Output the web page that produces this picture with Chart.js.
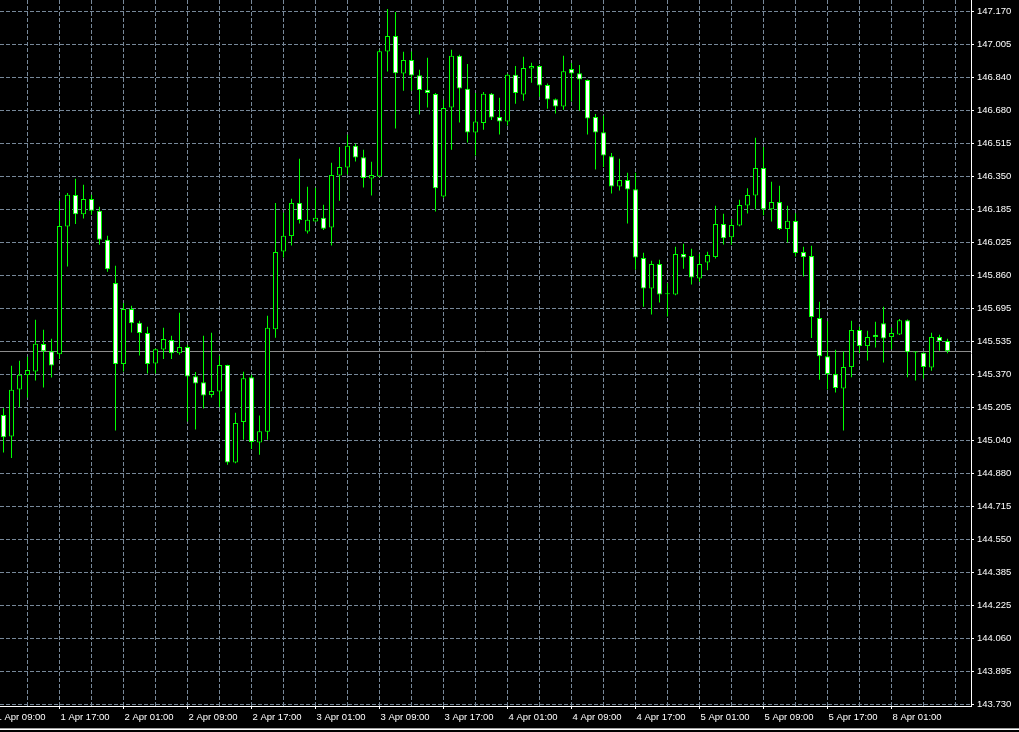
<!DOCTYPE html>
<html><head><meta charset="utf-8">
<script src="https://cdn.jsdelivr.net/npm/chart.js@4.4.1/dist/chart.umd.min.js"></script>
<style>
html,body{margin:0;padding:0;background:#000;overflow:hidden;}
#wrap{position:relative;width:1019px;height:732px;background:#000;}
canvas{display:block;}
#frame{position:absolute;left:0;top:728px;width:1019px;height:1px;background:#a0a0a0;border-bottom:1px solid #ffffff;}
</style></head><body>
<div id="wrap"><canvas id="c" width="1019" height="732"></canvas><div id="frame"></div></div>
<script>
// H1 candles, bar index 0 = 1 Apr 10:00
const open = [145.167,145.060,145.294,145.365,145.383,145.519,145.484,145.469,146.103,146.259,
146.164,146.239,146.181,146.037,145.822,145.420,145.693,145.625,145.574,145.423,
145.492,145.539,145.474,145.504,145.360,145.330,145.266,145.284,145.415,144.931,
145.132,145.355,145.031,145.084,145.593,145.979,146.055,146.220,146.078,146.128,
146.146,146.098,146.356,146.396,146.503,146.447,146.341,146.351,146.971,147.048,
146.862,146.929,146.854,146.781,146.760,146.252,146.693,146.950,146.786,146.569,
146.616,146.762,146.646,146.624,146.856,146.758,146.887,146.900,146.805,146.735,
146.698,146.884,146.864,146.830,146.646,146.571,146.452,146.301,146.333,146.288,
145.946,145.795,145.916,145.767,145.765,145.966,145.956,145.845,145.924,145.951,
146.115,146.050,146.108,146.207,146.257,146.393,146.189,146.224,146.090,146.130,
145.976,145.956,145.648,145.459,145.370,145.299,145.405,145.589,145.509,145.565,
145.623,145.554,145.567,145.638,145.478,145.476,145.403,145.554,145.534];
const high = [145.201,145.411,145.436,145.456,145.640,145.590,145.545,146.230,146.269,146.340,
146.310,146.260,146.201,146.057,145.908,145.723,145.709,145.635,145.605,145.497,
145.600,145.560,145.674,145.516,145.380,145.560,145.575,145.461,145.417,145.178,
145.382,145.367,145.165,145.660,146.220,146.171,146.240,146.439,146.300,146.295,
146.211,146.419,146.498,146.558,146.513,146.484,146.424,146.980,147.183,147.167,
146.970,146.971,146.881,146.940,146.765,146.732,146.980,146.955,146.910,146.765,
146.770,146.766,146.742,146.861,146.900,146.945,146.915,146.905,146.813,146.738,
146.950,146.914,146.905,146.833,146.661,146.652,146.467,146.439,146.369,146.369,
145.972,145.933,145.938,145.822,146.002,146.017,145.992,145.966,145.977,146.206,
146.166,146.140,146.235,146.293,146.543,146.498,146.325,146.305,146.206,146.169,
146.002,146.007,145.729,145.633,145.491,145.482,145.635,145.605,145.585,145.630,
145.704,145.600,145.643,145.641,145.482,145.478,145.575,145.565,145.545];
const low = [144.981,144.953,145.206,145.254,145.338,145.304,145.353,145.445,145.904,146.115,
146.142,146.161,146.012,145.878,145.090,145.383,145.577,145.462,145.373,145.373,
145.445,145.445,145.466,145.135,145.095,145.199,145.254,145.206,144.920,144.927,
145.044,144.998,144.970,145.044,145.550,145.949,146.008,146.118,146.068,146.126,
146.086,146.008,146.230,146.361,146.425,146.296,146.257,146.347,146.872,146.589,
146.776,146.776,146.659,146.693,146.177,146.245,146.484,146.619,146.520,146.455,
146.583,146.632,146.559,146.604,146.712,146.727,146.816,146.747,146.687,146.664,
146.682,146.723,146.679,146.559,146.386,146.398,146.267,146.282,146.118,145.888,
145.704,145.666,145.726,145.656,145.761,145.893,145.815,145.828,145.886,145.944,
146.013,146.012,146.104,146.167,146.189,146.159,146.128,146.085,146.023,145.954,
145.855,145.549,145.342,145.294,145.279,145.090,145.355,145.474,145.438,145.502,
145.428,145.494,145.564,145.355,145.338,145.348,145.387,145.486,145.474];
const close = [145.057,145.292,145.367,145.390,145.521,145.484,145.413,146.105,146.260,146.164,
146.239,146.181,146.037,145.891,145.420,145.693,145.623,145.574,145.420,145.494,
145.544,145.474,145.504,145.358,145.323,145.264,145.286,145.415,144.931,145.127,
145.350,145.033,145.087,145.600,145.976,146.057,146.220,146.135,146.136,146.146,
146.091,146.358,146.398,146.503,146.445,146.343,146.358,146.973,147.048,146.864,
146.929,146.852,146.780,146.765,146.293,146.691,146.950,146.788,146.569,146.624,
146.762,146.644,146.624,146.856,146.765,146.889,146.900,146.803,146.733,146.698,
146.874,146.862,146.832,146.639,146.569,146.455,146.301,146.333,146.286,145.949,
145.795,145.916,145.765,145.766,145.966,145.949,145.850,145.916,145.961,146.115,
146.045,146.110,146.209,146.259,146.393,146.189,146.224,146.090,146.131,145.971,
145.951,145.653,145.459,145.370,145.301,145.405,145.589,145.509,145.554,145.554,
145.547,145.574,145.638,145.479,145.477,145.405,145.554,145.534,145.483];
const lastPrice = 145.483;
const priceLabels = ['143.730','143.895','144.060','144.225','144.385','144.550','144.715','144.880',
'145.040','145.205','145.370','145.535','145.695','145.860','146.025','146.185','146.350','146.515',
'146.680','146.840','147.005','147.170'];
const timeLabels = ['1 Apr 09:00','1 Apr 17:00','2 Apr 01:00','2 Apr 09:00','2 Apr 17:00','3 Apr 01:00',
'3 Apr 09:00','3 Apr 17:00','4 Apr 01:00','4 Apr 09:00','4 Apr 17:00','5 Apr 01:00','5 Apr 09:00',
'5 Apr 17:00','8 Apr 01:00'];
const timeLabelBars = [-1,7,15,23,31,39,47,55,63,71,79,87,95,103,111];

const GREEN = '#00ff00', GRID = '#778899', FONT = 'Liberation Sans';
const idx = open.map((_, i) => i);
const bodyColors = idx.map(i => close[i] > open[i] ? '#000000' : '#ffffff');
const pMin = +priceLabels[0], pMax = +priceLabels[priceLabels.length - 1];
const pStep = (pMax - pMin) / (priceLabels.length - 1);
const pxPerUnit = 693 / (pMax - pMin);

new Chart(document.getElementById('c'), {
  type: 'bar',
  data: {
    datasets: [
      { label: 'body', order: 0, data: idx.map(i => ({x: i, y: [open[i], close[i]]})),
        backgroundColor: bodyColors, borderColor: GREEN, borderWidth: 1, borderSkipped: false,
        barThickness: 5, grouped: false, minBarLength: 1, inflateAmount: 0 },
      { label: 'wick', order: 1, data: idx.map(i => ({x: i, y: [low[i], high[i]]})),
        backgroundColor: GREEN, borderWidth: 0, barThickness: 1, grouped: false, inflateAmount: 0 }
    ]
  },
  options: {
    responsive: false, animation: false, devicePixelRatio: 1,
    layout: { padding: 0 },
    plugins: { legend: { display: false }, tooltip: { enabled: false } },
    scales: {
      x: {
        type: 'linear', position: 'bottom', offset: false,
        min: -3.5 / 8, max: (971 - 3.5) / 8,
        afterBuildTicks: s => {
          const t = [];
          for (let k = -1; k <= 120; k += 4) t.push({ value: k });
          s.ticks = t;
        },
        afterFit: s => { s.height = 26; s.paddingLeft = 0; s.paddingRight = 0; },
        grid: { offset: false, color: GRID, lineWidth: 1,
          drawTicks: true, tickLength: 3, tickBorderDash: [],
          tickColor: ctx => (ctx.tick && timeLabelBars.includes(ctx.tick.value)) ? '#ffffff' : 'rgba(0,0,0,0)' },
        border: { display: true, color: '#ffffff', width: 1, dash: [4, 2] },
        ticks: {
          autoSkip: false, maxRotation: 0, minRotation: 0, align: 'start', labelOffset: 1, padding: 3,
          color: '#ffffff', font: { family: FONT, size: 9.5 },
          callback: v => { const j = timeLabelBars.indexOf(v); return j >= 0 ? timeLabels[j] : ''; }
        }
      },
      y: {
        type: 'linear', position: 'right', weight: 1,
        min: pMin - 1.5 / pxPerUnit, max: pMax + 11.5 / pxPerUnit,
        afterBuildTicks: s => { s.ticks = priceLabels.map((_, i) => ({ value: pMin + i * pStep })); },
        afterFit: s => { s.width = 48; s.paddingTop = 0; s.paddingBottom = 0; },
        grid: { color: GRID, lineWidth: 1, drawTicks: true, tickLength: 3,
          tickBorderDash: [], tickColor: '#ffffff' },
        border: { display: true, color: '#ffffff', width: 1, dash: [4, 2] },
        ticks: { autoSkip: false, padding: 3, color: '#ffffff', font: { family: FONT, size: 9.5 },
          callback: (v, i) => priceLabels[i] }
      },
      y2: {
        type: 'linear', position: 'right', weight: 0,
        min: pMin - 1.5 / pxPerUnit, max: pMax + 11.5 / pxPerUnit,
        afterBuildTicks: s => { s.ticks = [{ value: lastPrice }]; },
        afterFit: s => { s.width = 0; s.paddingTop = 0; s.paddingBottom = 0; },
        grid: { color: '#8c8c8c', lineWidth: 1, drawTicks: false },
        border: { display: false },
        ticks: { autoSkip: false, padding: 6, color: '#000000', font: { family: FONT, size: 9.5 },
          showLabelBackdrop: true, backdropColor: '#ffffff',
          backdropPadding: { left: 5, right: 2, top: 2, bottom: 2 },
          callback: v => lastPrice.toFixed(3) }
      }
    }
  }
});
</script>
</body></html>
